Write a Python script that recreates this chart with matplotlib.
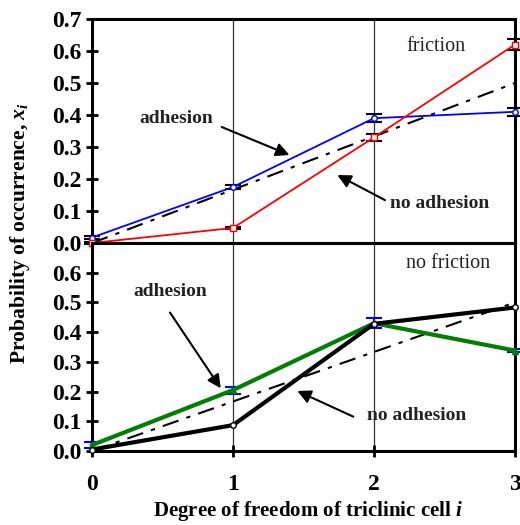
import matplotlib
matplotlib.use("Agg")
import matplotlib.pyplot as plt

plt.rcParams['font.family'] = ['Liberation Serif', 'DejaVu Serif']
plt.rcParams['mathtext.fontset'] = 'custom'
plt.rcParams['mathtext.it'] = 'Liberation Serif:italic:bold'
plt.rcParams['mathtext.rm'] = 'Liberation Serif:bold'

dof = [0, 1, 2, 3]
random_ref = [0.0, 1 / 6, 2 / 6, 3 / 6]

# friction panel
fr_adh = [0.017, 0.175, 0.39, 0.41]
fr_adh_err = [0.004, 0.006, 0.013, 0.013]
fr_noadh = [0.0, 0.047, 0.33, 0.62]
fr_noadh_err = [0.002, 0.003, 0.011, 0.018]

# no friction panel
nf_adh = [0.02, 0.205, 0.43, 0.338]
nf_adh_err = [0.01, 0.012, 0.016, 0.005]
nf_noadh = [0.005, 0.087, 0.428, 0.483]

W, H = 520, 525
fig = plt.figure(figsize=(W / 100, H / 100), dpi=100)
ax1 = fig.add_axes([92 / W, 1 - 243 / H, 423 / W, 224 / H])
ax2 = fig.add_axes([92 / W, 1 - 451 / H, 423 / W, 208 / H])

dashdot = (0, (8, 4, 2, 4))
for ax in (ax1, ax2):
    ax.set_xlim(0, 3)
    ax.set_ylim(0, 0.7)
    for xv in (1, 2):
        ax.axvline(xv, color='#333333', lw=0.9, zorder=1)
    ax.plot(dof, random_ref, color='black', lw=1.5, linestyle=dashdot, zorder=2)
    for s in ax.spines.values():
        s.set_linewidth(2.2)
    ax.tick_params(direction='inout', width=2, length=9, labelsize=17, pad=3)

arrow = dict(arrowstyle='-|>', color='black', lw=1.5, mutation_scale=20,
             shrinkA=0, shrinkB=0)
txt = dict(fontsize=14, fontweight='bold', ha='center', va='center', color='#222222')

# top panel
ax1.errorbar(dof, fr_adh, yerr=fr_adh_err, color='blue', lw=1.3, marker='o', ms=4,
             mfc='white', mec='blue', ecolor='black', elinewidth=1.5, capsize=6,
             capthick=1.5, zorder=3, clip_on=False)
ax1.errorbar(dof, fr_noadh, yerr=fr_noadh_err, color='red', lw=1.3, marker='s', ms=4,
             mfc='white', mec='red', ecolor='black', elinewidth=1.5, capsize=6,
             capthick=1.5, zorder=3, clip_on=False)
ax1.set_yticks([0, 0.1, 0.2, 0.3, 0.4, 0.5, 0.6, 0.7])
ax1.set_yticklabels(['0.0', '0.1', '0.2', '0.3', '0.4', '0.5', '0.6', '0.7'],
                    fontweight='bold')
ax1.set_xticks([])
ax1.text(2.436, 0.613, 'friction', fontsize=14.5, ha='center', va='center', color='#222222')
ax1.text(0.60, 0.39, 'adhesion', **txt)
ax1.annotate('', xy=(1.40, 0.275), xytext=(0.92, 0.3625), arrowprops=arrow)
ax1.text(2.468, 0.122, 'no adhesion', **txt)
ax1.annotate('', xy=(1.74, 0.2125), xytext=(2.078, 0.134), arrowprops=arrow)

# bottom panel
ax2.errorbar(dof, nf_adh, yerr=nf_adh_err, color='green', lw=3, marker='^', ms=4,
             mfc='green', mec='green', ecolor='blue', elinewidth=1.5, capsize=6,
             capthick=1.5, zorder=3, clip_on=False)
ax2.plot(dof, nf_noadh, color='black', lw=3, marker='o', ms=4, mfc='white',
         mec='black', zorder=4, clip_on=False)
ax2.set_yticks([0, 0.1, 0.2, 0.3, 0.4, 0.5, 0.6])
ax2.set_yticklabels(['0.0', '0.1', '0.2', '0.3', '0.4', '0.5', '0.6'],
                    fontweight='bold')
ax2.set_xticks(dof)
ax2.set_xticklabels(['0', '1', '2', '3'], fontweight='bold')
ax2.tick_params(axis='x', pad=12)
ax2.text(2.527, 0.632, 'no friction', fontsize=14.5, ha='center', va='center', color='#222222')
ax2.text(0.557, 0.536, 'adhesion', **txt)
ax2.annotate('', xy=(0.913, 0.211), xytext=(0.553, 0.466), arrowprops=arrow)
ax2.text(2.30, 0.119, 'no adhesion', **txt)
ax2.annotate('', xy=(1.456, 0.202), xytext=(1.853, 0.1156), arrowprops=arrow)

fig.text(308 / W, 1 - 516 / H, 'Degree of freedom of triclinic cell $i$', fontsize=15,
         fontweight='bold', ha='center', va='baseline')
fig.text(20 / W, 1 - 233 / H, 'Probability of occurrence, $x_i$', rotation=90,
         fontsize=15.5, fontweight='bold', ha='center', va='center')

fig.savefig('out.png', dpi=100)
